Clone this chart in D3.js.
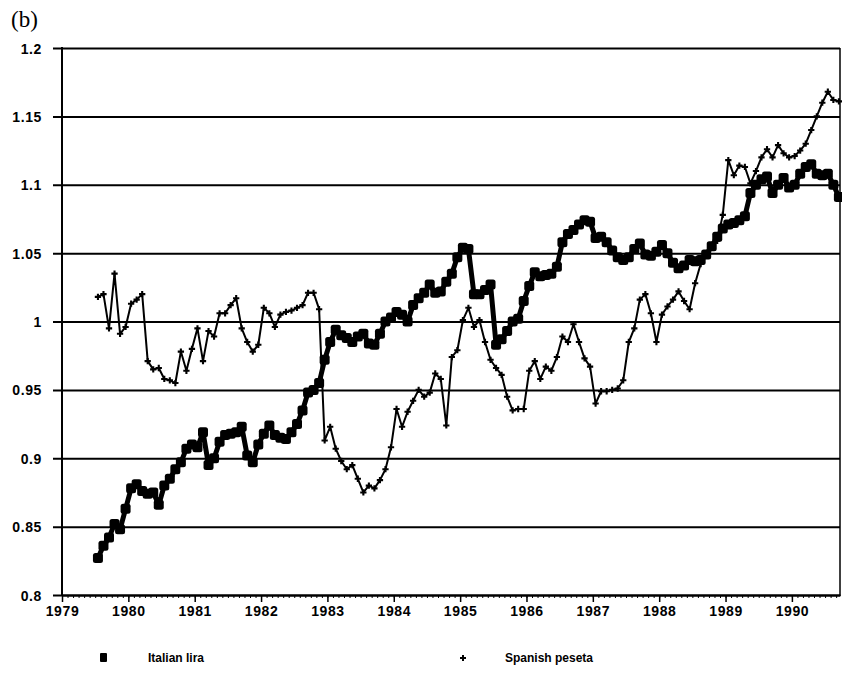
<!DOCTYPE html>
<html>
<head>
<meta charset="utf-8">
<script src="https://cdn.jsdelivr.net/npm/d3@7"></script>
<style>
	body { margin: 0; background: #fff; }
	svg { display: block; }
	.tick-label { font-family: 'Liberation Sans', Arial, sans-serif; font-weight: bold; font-size: 14px; letter-spacing: 0.6px; fill: #000; }
	.legend-label { font-family: 'Liberation Sans', Arial, sans-serif; font-weight: bold; font-size: 12px; fill: #000; }
	.panel-label { font-family: 'Liberation Serif', serif; font-size: 23px; fill: #000; }
</style>
</head>
<body>
<div id="chart"></div>
<script>
// monthly values, Jul 1979 .. Sep 1990
const startYear = 1979;
const startMonth = 6; // 0 = January

const liraValues = [
	0.827, 0.836, 0.842, 0.852, 0.848, 0.863,
	0.878, 0.881, 0.876, 0.874, 0.875, 0.866, 0.880, 0.885, 0.892, 0.897, 0.907, 0.910,
	0.908, 0.919, 0.895, 0.900, 0.912, 0.917, 0.918, 0.919, 0.923, 0.902, 0.897, 0.910,
	0.918, 0.924, 0.917, 0.915, 0.914, 0.919, 0.925, 0.935, 0.948, 0.950, 0.955, 0.972,
	0.985, 0.994, 0.990, 0.988, 0.985, 0.989, 0.991, 0.984, 0.983, 0.991, 1.000, 1.003,
	1.007, 1.005, 1.000, 1.012, 1.017, 1.021, 1.027, 1.021, 1.022, 1.029, 1.035, 1.047,
	1.054, 1.053, 1.020, 1.020, 1.023, 1.027, 0.983, 0.987, 0.993, 1.000, 1.002, 1.015,
	1.026, 1.036, 1.033, 1.034, 1.035, 1.040, 1.058, 1.064, 1.067, 1.071, 1.074, 1.073,
	1.061, 1.062, 1.058, 1.052, 1.047, 1.045, 1.047, 1.053, 1.057, 1.049, 1.048, 1.051,
	1.056, 1.050, 1.043, 1.039, 1.041, 1.045, 1.044, 1.045, 1.049, 1.055, 1.062, 1.068,
	1.071, 1.072, 1.074, 1.077, 1.094, 1.100, 1.104, 1.106, 1.094, 1.100, 1.105, 1.098,
	1.100, 1.108, 1.113, 1.115, 1.108, 1.107, 1.108, 1.100, 1.091
];

const pesetaValues = [
	1.018, 1.020, 0.995, 1.035, 0.991, 0.996,
	1.013, 1.016, 1.020, 0.971, 0.965, 0.966, 0.958, 0.957, 0.955, 0.978, 0.964, 0.980,
	0.995, 0.971, 0.993, 0.989, 1.006, 1.006, 1.012, 1.017, 0.995, 0.985, 0.978, 0.983,
	1.010, 1.006, 0.996, 1.005, 1.007, 1.008, 1.010, 1.012, 1.021, 1.021, 1.009, 0.913,
	0.923, 0.907, 0.898, 0.892, 0.895, 0.885, 0.875, 0.880, 0.878, 0.884, 0.892, 0.908,
	0.936, 0.923, 0.934, 0.942, 0.950, 0.945, 0.948, 0.962, 0.958, 0.924, 0.974, 0.979,
	1.001, 1.010, 0.996, 1.001, 0.985, 0.972, 0.966, 0.961, 0.945, 0.935, 0.936, 0.936,
	0.964, 0.971, 0.958, 0.967, 0.964, 0.974, 0.989, 0.985, 0.998, 0.985, 0.973, 0.967,
	0.940, 0.949, 0.949, 0.950, 0.951, 0.957, 0.985, 0.995, 1.016, 1.020, 1.006, 0.985,
	1.005, 1.011, 1.016, 1.022, 1.015, 1.009, 1.028, 1.042, 1.048, 1.055, 1.059, 1.078,
	1.118, 1.107, 1.114, 1.113, 1.101, 1.110, 1.120, 1.126, 1.120, 1.129, 1.123, 1.120,
	1.121, 1.125, 1.130, 1.140, 1.150, 1.160, 1.168, 1.162, 1.161
];

const yTicks = [0.8, 0.85, 0.9, 0.95, 1, 1.05, 1.1, 1.15, 1.2];
const yearTicks = [1979, 1980, 1981, 1982, 1983, 1984, 1985, 1986, 1987, 1988, 1989, 1990];
const seriesNames = ['Italian lira', 'Spanish peseta'];
const panelLabel = '(b)';

const Chart = {
	init() {
		const width = 842;
		const height = 674;
		const marginLeft = 62;
		const marginRight = 2;
		const marginTop = 48;
		const plotBottom = 595;

		// month index -> decimal year, plotted mid month
		const toTime = (i) => startYear + (startMonth + i + 0.5) / 12;
		const lira = liraValues.map((v, i) => ({ t: toTime(i), v }));
		const peseta = pesetaValues.map((v, i) => ({ t: toTime(i), v }));

		const scaleX = d3.scaleLinear()
			.domain([1979, 1990.725])
			.range([marginLeft, width - marginRight]);
		const scaleY = d3.scaleLinear()
			.domain([0.8, 1.2])
			.range([plotBottom, marginTop]);

		const $svg = d3.select('#chart').append('svg')
			.attr('width', width)
			.attr('height', height);

		$svg.append('text')
			.attr('class', 'panel-label')
			.attr('x', 11)
			.attr('y', 27)
			.text(panelLabel);

		// gridlines + y axis
		const $yAxis = $svg.append('g')
			.attr('transform', `translate(${marginLeft},0)`)
			.call(d3.axisLeft(scaleY)
				.tickValues(yTicks)
				.tickSize(-(width - marginLeft - marginRight))
				.tickSizeOuter(0)
				.tickFormat(d3.format('~g')));
		$yAxis.select('.domain').remove();
		$yAxis.selectAll('.tick line')
			.attr('x1', -9)
			.attr('stroke', '#000')
			.attr('stroke-width', 2);
		$yAxis.selectAll('.tick text')
			.attr('class', 'tick-label')
			.attr('x', -20)
			.attr('dy', '0.36em');

		// frame: left and right borders
		$svg.append('line')
			.attr('x1', marginLeft).attr('x2', marginLeft)
			.attr('y1', marginTop - 1).attr('y2', plotBottom + 1)
			.attr('stroke', '#000').attr('stroke-width', 2);
		$svg.append('line')
			.attr('x1', width - marginRight).attr('x2', width - marginRight)
			.attr('y1', marginTop).attr('y2', plotBottom + 1)
			.attr('stroke', '#000').attr('stroke-width', 1.5);

		// x axis: year ticks with monthly minor ticks
		const monthTicks = d3.range(1979, 1990.72, 1 / 12);
		const $xMinor = $svg.append('g')
			.attr('transform', `translate(0,${plotBottom})`)
			.call(d3.axisBottom(scaleX).tickValues(monthTicks).tickSize(3).tickFormat(''));
		$xMinor.select('.domain').remove();
		$xMinor.selectAll('.tick line').attr('stroke', '#000').attr('stroke-width', 1);

		const $xAxis = $svg.append('g')
			.attr('transform', `translate(0,${plotBottom})`)
			.call(d3.axisBottom(scaleX)
				.tickValues(yearTicks)
				.tickSize(7)
				.tickSizeOuter(0)
				.tickFormat(d3.format('d')));
		$xAxis.select('.domain')
			.attr('stroke', '#000')
			.attr('stroke-width', 2);
		$xAxis.selectAll('.tick line').attr('stroke', '#000').attr('stroke-width', 1.5);
		$xAxis.selectAll('.tick text')
			.attr('class', 'tick-label')
			.attr('y', 11)
			.attr('dy', '0.71em');

		// peseta: thin line with plus markers
		const line = d3.line()
			.x(d => scaleX(d.t))
			.y(d => scaleY(d.v));

		$svg.append('path')
			.datum(peseta)
			.attr('d', line)
			.attr('fill', 'none')
			.attr('stroke', '#000')
			.attr('stroke-width', 2)
			.attr('stroke-linejoin', 'round');

		const plus = d3.symbol().type(d3.symbolCross).size(22);
		$svg.append('g')
			.selectAll('path')
			.data(peseta)
			.join('path')
			.attr('d', plus)
			.attr('transform', d => `translate(${scaleX(d.t)},${scaleY(d.v)})`)
			.attr('fill', '#000');

		// lira: heavy line with filled squares
		$svg.append('path')
			.datum(lira)
			.attr('d', line)
			.attr('fill', 'none')
			.attr('stroke', '#000')
			.attr('stroke-width', 5)
			.attr('stroke-linejoin', 'round');

		const sq = 10;
		$svg.append('g')
			.selectAll('rect')
			.data(lira)
			.join('rect')
			.attr('x', d => scaleX(d.t) - sq / 2)
			.attr('y', d => scaleY(d.v) - sq / 2)
			.attr('width', sq)
			.attr('height', sq)
			.attr('rx', 2.5)
			.attr('fill', '#000');

		// legend
		const $legend = $svg.append('g').attr('transform', 'translate(0,657)');
		$legend.append('rect')
			.attr('x', 100).attr('y', -4)
			.attr('width', 7).attr('height', 9)
			.attr('rx', 1)
			.attr('fill', '#000');
		$legend.append('text')
			.attr('class', 'legend-label')
			.attr('x', 148).attr('y', 5)
			.text(seriesNames[0]);
		$legend.append('path')
			.attr('d', d3.symbol().type(d3.symbolCross).size(20))
			.attr('transform', 'translate(463,1)')
			.attr('fill', '#000');
		$legend.append('text')
			.attr('class', 'legend-label')
			.attr('x', 505).attr('y', 5)
			.text(seriesNames[1]);
	}
};

Chart.init();
</script>
</body>
</html>
